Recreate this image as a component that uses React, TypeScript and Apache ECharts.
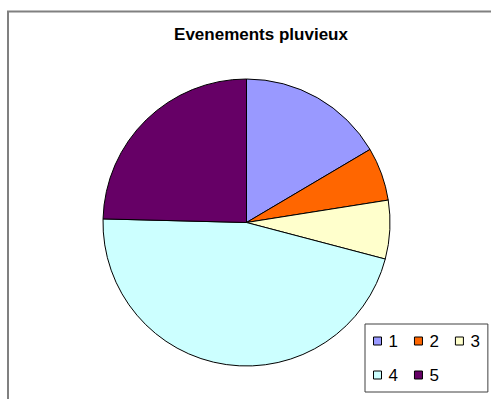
import React, { useEffect, useRef } from "react";
import * as echarts from "echarts";

const categories = ["1", "2", "3", "4", "5"];
const values = [16.5, 6.0, 6.6, 46.3, 24.6];
const colors = ["#9999FF", "#FF6600", "#FFFFCC", "#CCFFFF", "#660066"];
const titleText = "Evenements pluvieux";

export default function App() {
  const ref = useRef<HTMLDivElement>(null);
  useEffect(() => {
    if (!ref.current) return;
    const chart = echarts.init(ref.current, undefined, { renderer: "svg" });
    chart.setOption({
      animation: false,
      backgroundColor: "#ffffff",
      title: {
        text: titleText,
        left: 261,
        textAlign: "center",
        top: 26,
        padding: 0,
        textStyle: {
          fontFamily: "Liberation Sans, Arial, sans-serif",
          fontWeight: "bold",
          fontSize: 17,
          color: "#000",
        },
      },
      graphic: [
        {
          type: "rect",
          shape: { x: 8, y: 11.5, width: 520, height: 420 },
          style: { fill: "none", stroke: "#808080", lineWidth: 2 },
          silent: true,
          z: 0,
        },
      ],
      legend: {
        left: 365,
        top: 324,
        width: 110,
        orient: "horizontal",
        padding: [8, 8, 8, 8],
        itemWidth: 8,
        itemHeight: 8,
        itemGap: 16,
        icon: "rect",
        borderColor: "#404040",
        borderWidth: 1,
        itemStyle: { borderColor: "#000", borderWidth: 1 },
        textStyle: {
          fontFamily: "Liberation Sans, Arial, sans-serif",
          fontSize: 17,
          color: "#000",
          lineHeight: 18,
          padding: [0, 0, 0, 2],
        },
        data: categories,
      },
      series: [
        {
          type: "pie",
          center: [246.5, 222.5],
          radius: [0, 143.5],
          startAngle: 90,
          clockwise: true,
          label: { show: false },
          labelLine: { show: false },
          emphasis: { disabled: true },
          itemStyle: { borderColor: "#000", borderWidth: 1 },
          data: categories.map((c, i) => ({
            name: c,
            value: values[i],
            itemStyle: { color: colors[i] },
          })),
        },
      ],
    });
    return () => chart.dispose();
  }, []);
  return (
    <div
      ref={ref}
      style={{ position: "fixed", left: 0, top: 0, width: 491, height: 399 }}
    />
  );
}
